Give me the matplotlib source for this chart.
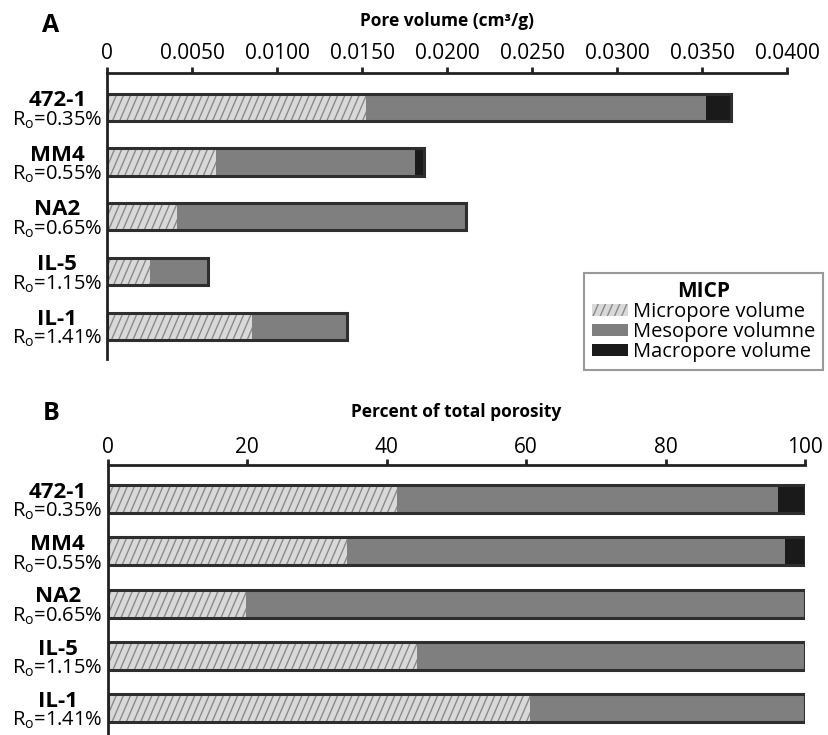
import matplotlib
matplotlib.use("Agg")
import numpy as np
import matplotlib.pyplot as plt
import matplotlib.hatch as mhatch
from matplotlib.path import Path
from matplotlib.patches import Patch

plt.rcParams['font.family'] = ['Open Sans', 'DejaVu Sans']
plt.rcParams['mathtext.fontset'] = 'custom'
plt.rcParams['mathtext.rm'] = 'Open Sans'
plt.rcParams['hatch.linewidth'] = 1.0


# steeper '/' hatch like the original figure (about 66 degrees)
class SteepHatch(mhatch.HatchPatternBase):
    def __init__(self, hatch, density):
        n = hatch.count('/')
        self.num_lines = 7 * n
        self.shift = 3 * n
        self.num_vertices = (self.num_lines + self.shift + 1) * 2 if n else 0

    def set_vertices_and_codes(self, vertices, codes):
        i = np.arange(-self.shift, self.num_lines + 1)
        x0 = i / self.num_lines
        vertices[0::2, 0] = x0
        vertices[0::2, 1] = 0
        vertices[1::2, 0] = x0 + self.shift / self.num_lines
        vertices[1::2, 1] = 1
        codes[0::2] = Path.MOVETO
        codes[1::2] = Path.LINETO


mhatch._hatch_types[mhatch._hatch_types.index(mhatch.NorthEastHatch)] = SteepHatch

# data
samples = ['472-1', 'MM4', 'NA2', 'IL-5', 'IL-1']
ro = ['0.35', '0.55', '0.65', '1.15', '1.41']

micro_vol = [0.0152, 0.0064, 0.0041, 0.0025, 0.0085]
meso_vol = [0.0200, 0.0117, 0.0170, 0.0034, 0.0056]
macro_vol = [0.0015, 0.0005, 0.0, 0.0, 0.0]

micro_pct = [41.5, 34.3, 19.8, 44.3, 60.5]
meso_pct = [54.6, 62.9, 80.2, 55.7, 39.5]
macro_pct = [3.9, 2.8, 0.0, 0.0, 0.0]

a_ticks = [0, 0.005, 0.010, 0.015, 0.020, 0.025, 0.030, 0.035, 0.040]
a_tick_labels = ['0', '0.0050', '0.0100', '0.0150', '0.0200', '0.0250',
                 '0.0300', '0.0350', '0.0400']
b_ticks = [0, 20, 40, 60, 80, 100]

legend_labels = ['Micropore volume', 'Mesopore volumne', 'Macropore volume']

c_micro = '#d9d9d9'
c_hatch = '#8a8a8a'
c_meso = '#7f7f7f'
c_macro = '#1a1a1a'
c_edge = '#2e2e2e'

W, H = 829, 735
fig = plt.figure(figsize=(W / 100, H / 100), dpi=100)


def px(x, y):
    return x / W, 1 - y / H


def stacked(ax, micro, meso, macro, height):
    y = list(range(len(samples)))
    left2 = [a + b for a, b in zip(micro, meso)]
    total = [a + b for a, b in zip(left2, macro)]
    ax.barh(y, micro, height=height, color=c_micro, edgecolor=c_hatch,
            hatch='//', linewidth=0)
    ax.barh(y, meso, left=micro, height=height, color=c_meso, linewidth=0)
    ax.barh(y, macro, left=left2, height=height, color=c_macro, linewidth=0)
    ax.barh(y, total, height=height, fill=False, edgecolor=c_edge,
            linewidth=2.2)
    for i in y:
        ax.annotate(samples[i], xy=(0, i), xycoords=('axes fraction', 'data'),
                    xytext=(-36, 5), textcoords='offset points',
                    ha='center', va='center', fontsize=16,
                    fontweight='bold')
        ax.annotate(r'R$_\mathregular{o}$=' + ro[i] + '%', xy=(0, i),
                    xycoords=('axes fraction', 'data'),
                    xytext=(-36, -9), textcoords='offset points',
                    ha='center', va='center', fontsize=14.5)


def style(ax, ticks, labels, xmax, pad):
    ax.xaxis.tick_top()
    ax.set_xlim(0, xmax)
    ax.set_xticks(ticks)
    ax.set_xticklabels(labels, fontsize=15)
    ax.tick_params(axis='x', direction='out', length=4, width=2,
                   color='#222222', pad=pad)
    ax.set_yticks([])
    for s in ['bottom', 'right']:
        ax.spines[s].set_visible(False)
    for s in ['top', 'left']:
        ax.spines[s].set_linewidth(2)
        ax.spines[s].set_color('#222222')


# panel A
l, t = px(107.3, 72.7)
r, b = px(787.3, 359.3)
axA = fig.add_axes([l, b, r - l, t - b])
stacked(axA, micro_vol, meso_vol, macro_vol, 0.5)
style(axA, a_ticks, a_tick_labels, 0.040, 2.4)
axA.set_ylim(4.605, -0.634)

# panel B
l, t = px(107.7, 465)
r, b = px(805, 735)
axB = fig.add_axes([l, b, r - l, t - b])
stacked(axB, micro_pct, meso_pct, macro_pct, 0.535)
style(axB, b_ticks, [str(v) for v in b_ticks], 100, 0.8)
axB.set_ylim(4.51, -0.654)

fig.text(*px(50.5, 25), 'A', fontsize=18, fontweight='bold',
         ha='center', va='center')
fig.text(*px(51, 414), 'B', fontsize=18, fontweight='bold',
         ha='center', va='center')
fig.text(*px(447, 21), 'Pore volume (cm³/g)', fontsize=12.5,
         fontweight='bold', ha='center', va='center')
fig.text(*px(456, 412), 'Percent of total porosity', fontsize=12.5,
         fontweight='bold', ha='center', va='center')

handles = [Patch(facecolor=c_micro, edgecolor=c_hatch, hatch='//',
                 linewidth=0),
           Patch(facecolor=c_meso, linewidth=0),
           Patch(facecolor=c_macro, linewidth=0)]
leg = fig.legend(handles, legend_labels, loc='upper right',
                 bbox_to_anchor=px(823, 273), borderaxespad=0,
                 fontsize=14.5, title='MICP', frameon=True, fancybox=False,
                 handlelength=1.75, handleheight=0.6, handletextpad=0.25,
                 labelspacing=0.0, borderpad=0.4)
leg.get_title().set_fontweight('bold')
leg.get_title().set_fontsize(15)
leg.get_frame().set_edgecolor('#808080')
leg.get_frame().set_linewidth(1.5)

fig.savefig('out.png', dpi=100)
